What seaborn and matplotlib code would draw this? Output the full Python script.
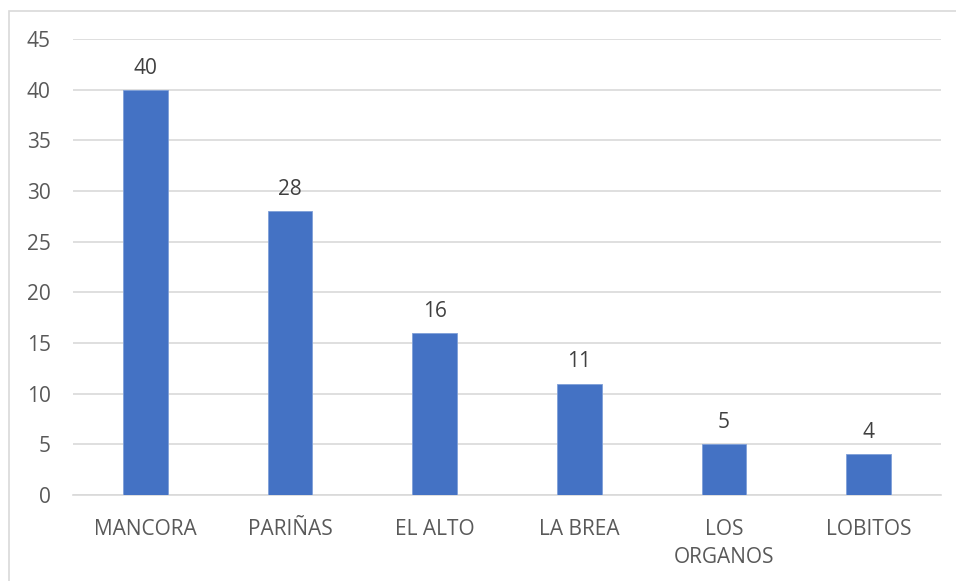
import pandas as pd
import matplotlib.pyplot as plt
import seaborn as sns
from matplotlib.patches import Rectangle

# data
districts = ["MANCORA", "PARIÑAS", "EL ALTO", "LA BREA", "LOS\nORGANOS", "LOBITOS"]
counts = [40, 28, 16, 11, 5, 4]
y_ticks = [0, 5, 10, 15, 20, 25, 30, 35, 40, 45]

sns.set_theme(style="white")
plt.rcParams['font.family'] = ['Open Sans', 'DejaVu Sans']

df = pd.DataFrame({"district": districts, "count": counts})

fig = plt.figure(figsize=(9.56, 5.81), dpi=100)
ax = fig.add_axes([73/956, 1 - 495/581, (941 - 73)/956, (495 - 39)/581])

sns.barplot(data=df, x="district", y="count", color="#4472C4", width=0.31,
            saturation=1, ax=ax, zorder=3, edgecolor="#7F9FD8", linewidth=0.6)

# value labels above bars
for container in ax.containers:
    ax.bar_label(container, padding=8, fontsize=15, color="#404040")

ax.set_ylim(0, 45)
ax.set_yticks(y_ticks)
ax.set_xlim(-0.5, len(districts) - 0.5)
ax.yaxis.grid(True, color="#D9D9D9", linewidth=1.2, zorder=0)
ax.set_axisbelow(True)
ax.set_xlabel("")
ax.set_ylabel("")
ax.tick_params(axis="both", length=0, labelsize=15, labelcolor="#595959")
ax.tick_params(axis="x", pad=17)
ax.tick_params(axis="y", pad=16)
for lbl in ax.get_xticklabels():
    lbl.set_linespacing(1.45)

for side in ["top", "right", "left"]:
    ax.spines[side].set_visible(False)
ax.spines["bottom"].set_color("#D9D9D9")
ax.spines["bottom"].set_linewidth(1.2)

# chart border
fig.patches.append(Rectangle((9/956, -0.01), 1.0, 1 - 11/581 + 0.01,
                             transform=fig.transFigure, fill=False,
                             edgecolor="#D9D9D9", linewidth=1.2))

fig.savefig("out.png", dpi=100)
